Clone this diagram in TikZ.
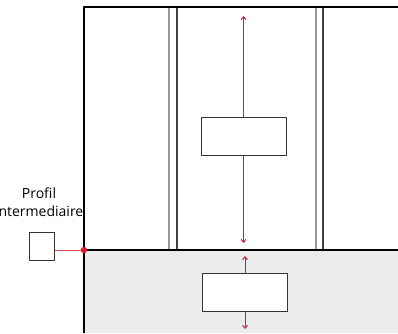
\documentclass[tikz,border=0pt]{standalone}
\usepackage{fontspec}
\setmainfont{Open Sans}
\usetikzlibrary{arrows.meta,positioning}
\definecolor{rouge}{RGB}{215,25,40}
\definecolor{fond}{RGB}{236,236,236}
\begin{document}
\begin{tikzpicture}[x=1pt, y=-1pt, line join=round, >={Straight Barb[length=3pt,width=5pt]},
	mur/.style={line width=2.2pt, black},
	montant/.style={line width=1.8pt, gray!80},
	montantb/.style={line width=1.3pt, black!75},
	boite/.style={draw=black!80, line width=1pt, fill=white, inner sep=0pt},
	fleche/.style={->, rouge, line width=0.9pt}]
	\def\xmin{0}\def\xmax{398}\def\ymin{0}\def\ymax{333}
	\useasboundingbox (\xmin,\ymin) rectangle (\xmax,\ymax);
	\fill[fond] (84,250) rectangle (\xmax,\ymax);
	\foreach \x in {169,316}\draw[montant] (\x,7)--(\x,250);
	\foreach \x in {177,323}\draw[montantb] (\x,7)--(\x,250);
	\draw[mur] (84,\ymax)--(84,7)--(\xmax,7);
	\draw[mur] (84,250)--(\xmax,250);
	\node[boite, minimum width=85pt, minimum height=38pt] (haut) at (243.5,136) {};
	\node[boite, minimum width=85pt, minimum height=38pt] (bas) at (245,292) {};
	\node[boite, minimum width=25pt, minimum height=28pt] (profil) at (42,246) {};
	\node[align=center, font=\fontsize{14}{18}\selectfont, inner sep=0pt] (titre) at (39,202) {Profil\\Intermediaire};
	\coordinate (h1) at (243.5,16);
	\coordinate (h2) at (243.5,243);
	\coordinate (b1) at (245,256);
	\coordinate (b2) at (245,329);
	\coordinate (angle) at (84,250);
	\draw[fleche] (haut.north)--(h1);
	\draw[fleche] (haut.south)--(h2);
	\draw[fleche] (bas.north)--(b1);
	\draw[fleche] (bas.south)--(b2);
	\draw[rouge!80, line width=1pt] (profil.east |- angle)--(angle);
	\fill[rouge] (angle) circle (3.2pt);
\end{tikzpicture}
\end{document}
